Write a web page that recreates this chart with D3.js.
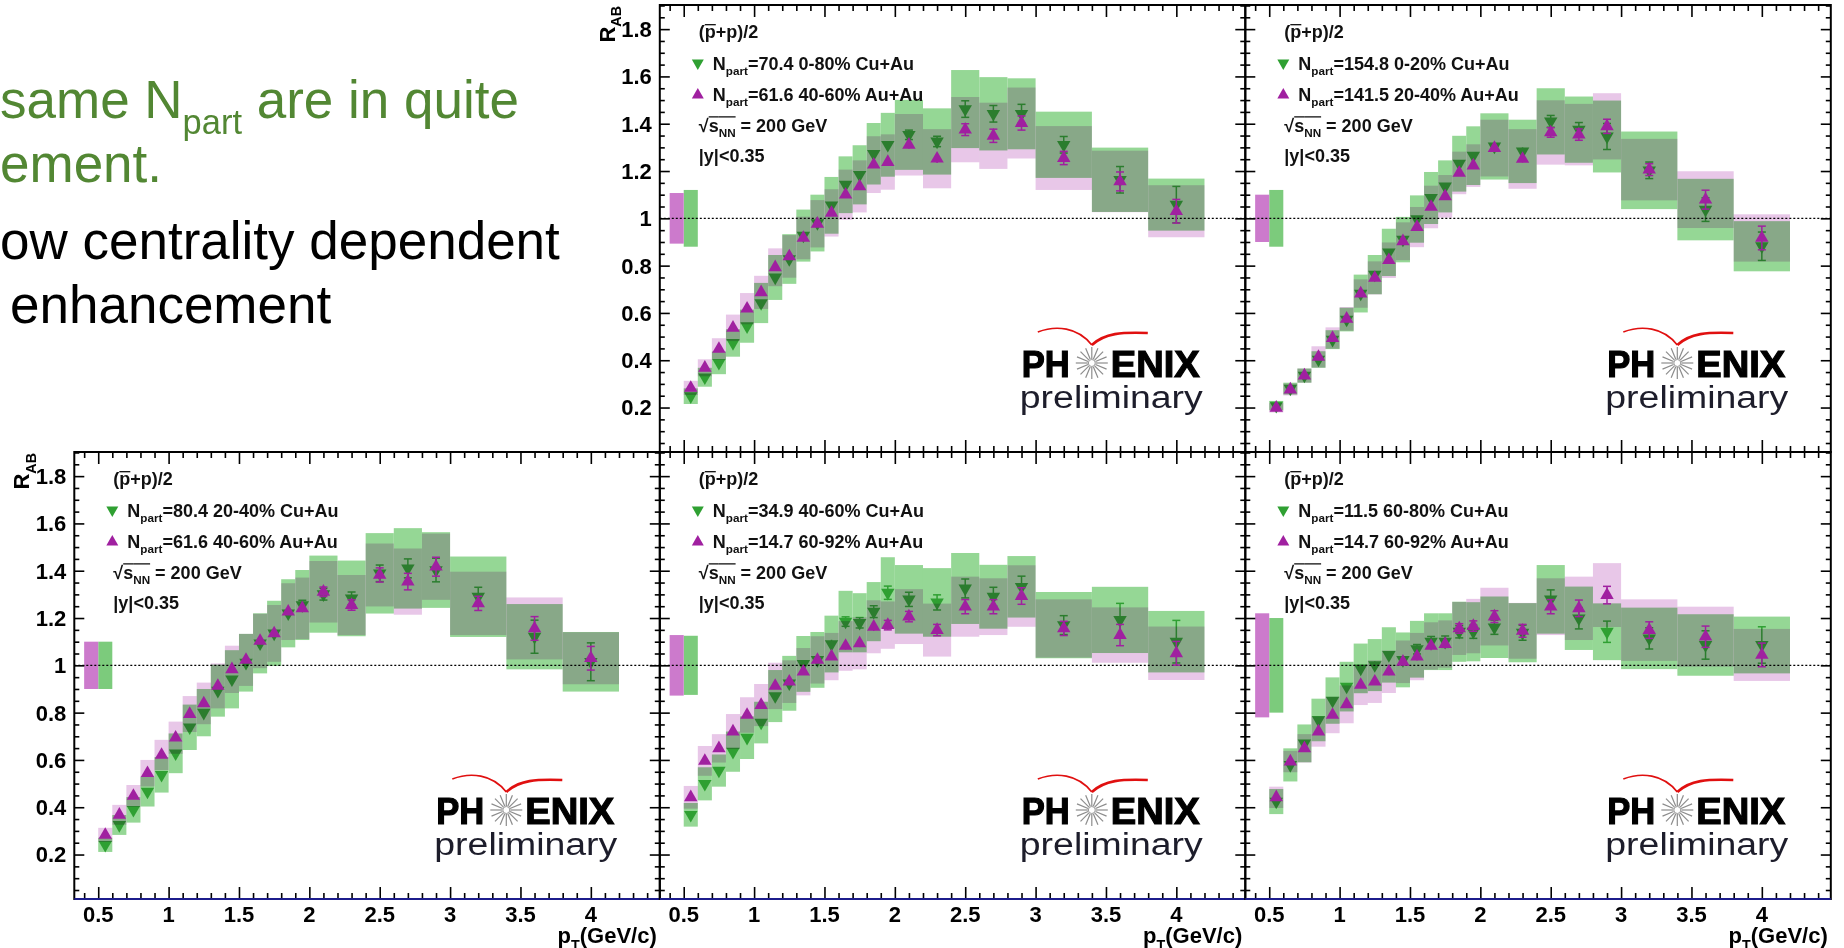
<!DOCTYPE html>
<html lang="en">
<head>
<meta charset="utf-8">
<title>RAB Cu+Au vs Au+Au</title>
<script src="https://cdn.jsdelivr.net/npm/d3@7"></script>
<style>
  body { margin: 0; background: #fff; }
  text { font-family: "Liberation Sans", Arial, Helvetica, sans-serif; }
</style>
</head>
<body>
<script>
// pT bins (GeV/c)
var ptMid = [0.55,0.65,0.75,0.85,0.95,1.05,1.15,1.25,1.35,1.45,1.55,1.65,1.75,1.85,1.95,2.1,2.3,2.5,2.7,2.9,3.2,3.6,4.0];
var ptLo  = [0.5,0.6,0.7,0.8,0.9,1.0,1.1,1.2,1.3,1.4,1.5,1.6,1.7,1.8,1.9,2.0,2.2,2.4,2.6,2.8,3.0,3.4,3.8];
var ptHi  = [0.6,0.7,0.8,0.9,1.0,1.1,1.2,1.3,1.4,1.5,1.6,1.7,1.8,1.9,2.0,2.2,2.4,2.6,2.8,3.0,3.4,3.8,4.2];

// panel A: 70.4 0-80% Cu+Au vs 61.6 40-60% Au+Au
var cuA    = [0.248,0.328,0.389,0.473,0.544,0.642,0.75,0.828,0.927,0.98,1.055,1.142,1.184,1.273,1.311,1.353,1.325,1.462,1.442,1.442,1.311,1.163,1.058];
var cuSysA = [0.033,0.04,0.048,0.058,0.07,0.085,0.095,0.105,0.11,0.12,0.12,0.12,0.125,0.13,0.135,0.148,0.14,0.165,0.155,0.15,0.14,0.136,0.11];
var cuStA  = [0.005,0.005,0.006,0.006,0.007,0.007,0.008,0.008,0.009,0.01,0.01,0.011,0.012,0.013,0.015,0.02,0.022,0.035,0.035,0.04,0.035,0.056,0.077];
var auA    = [0.283,0.368,0.448,0.537,0.618,0.687,0.793,0.839,0.917,0.977,1.023,1.1,1.135,1.227,1.238,1.311,1.252,1.375,1.349,1.403,1.255,1.156,1.03];
var auSysA = [0.03,0.036,0.045,0.056,0.066,0.07,0.08,0.09,0.09,0.1,0.1,0.106,0.11,0.12,0.117,0.13,0.125,0.138,0.14,0.15,0.135,0.13,0.11];
var auStA  = [0.005,0.005,0.005,0.006,0.006,0.007,0.007,0.008,0.008,0.009,0.01,0.01,0.011,0.012,0.013,0.017,0.018,0.025,0.028,0.03,0.028,0.04,0.05];

// panel B: 154.8 0-20% Cu+Au vs 141.5 20-40% Au+Au
var cuB    = [0.208,0.28,0.335,0.403,0.487,0.572,0.682,0.762,0.856,0.91,0.997,1.086,1.135,1.231,1.265,1.304,1.283,1.41,1.375,1.346,1.203,1.037,0.882];
var cuSysB = [0.02,0.025,0.03,0.035,0.04,0.05,0.08,0.083,0.1,0.096,0.1,0.11,0.11,0.118,0.124,0.14,0.134,0.14,0.14,0.152,0.164,0.13,0.106];
var cuStB  = [0.004,0.004,0.005,0.005,0.006,0.006,0.007,0.007,0.008,0.008,0.009,0.01,0.01,0.011,0.012,0.015,0.017,0.025,0.03,0.055,0.035,0.05,0.06];
var auB    = [0.199,0.276,0.335,0.414,0.494,0.575,0.682,0.748,0.823,0.903,0.963,1.048,1.093,1.192,1.223,1.297,1.251,1.363,1.354,1.389,1.206,1.079,0.917];
var auSysB = [0.02,0.025,0.03,0.045,0.045,0.05,0.06,0.07,0.075,0.08,0.085,0.09,0.09,0.09,0.09,0.12,0.126,0.136,0.13,0.14,0.13,0.12,0.1];
var auStB  = [0.004,0.004,0.004,0.005,0.005,0.006,0.006,0.007,0.007,0.008,0.008,0.009,0.009,0.01,0.011,0.013,0.015,0.02,0.024,0.03,0.025,0.04,0.05];

// panel C: 80.4 20-40% Cu+Au vs 61.6 40-60% Au+Au
var cuC    = [0.241,0.325,0.389,0.466,0.537,0.628,0.738,0.8,0.893,0.941,1.011,1.093,1.135,1.22,1.255,1.301,1.283,1.389,1.41,1.403,1.29,1.121,1.015];
var cuSysC = [0.03,0.042,0.054,0.063,0.075,0.084,0.096,0.1,0.11,0.123,0.122,0.127,0.138,0.144,0.148,0.163,0.16,0.17,0.17,0.16,0.17,0.138,0.126];
var cuStC  = [0.005,0.006,0.006,0.007,0.008,0.008,0.009,0.01,0.011,0.012,0.013,0.014,0.015,0.017,0.02,0.025,0.027,0.035,0.04,0.05,0.04,0.07,0.08];
var auC    = [0.283,0.368,0.448,0.544,0.621,0.694,0.794,0.839,0.913,0.983,1.023,1.103,1.135,1.227,1.241,1.311,1.255,1.382,1.354,1.417,1.262,1.156,1.03];
var auSysC = [0.03,0.042,0.046,0.056,0.064,0.068,0.076,0.088,0.095,0.1,0.11,0.115,0.12,0.12,0.13,0.13,0.127,0.133,0.14,0.14,0.134,0.131,0.11];
var auStC  = [0.005,0.005,0.006,0.006,0.007,0.007,0.008,0.009,0.009,0.01,0.011,0.012,0.013,0.014,0.016,0.02,0.022,0.03,0.035,0.04,0.03,0.05,0.05];

// panel D: 34.9 40-60% Cu+Au vs 14.7 60-92% Au+Au
var cuD    = [0.368,0.499,0.555,0.635,0.694,0.758,0.87,0.924,1.006,1.023,1.09,1.185,1.18,1.227,1.307,1.279,1.266,1.325,1.29,1.332,1.17,1.192,1.1];
var cuSysD = [0.05,0.07,0.068,0.085,0.09,0.088,0.11,0.116,0.118,0.118,0.12,0.13,0.125,0.125,0.15,0.145,0.145,0.15,0.135,0.13,0.14,0.14,0.13];
var cuStD  = [0.008,0.008,0.009,0.01,0.011,0.012,0.013,0.014,0.015,0.016,0.018,0.02,0.022,0.025,0.028,0.03,0.032,0.04,0.04,0.045,0.04,0.07,0.09];
var auD    = [0.442,0.596,0.649,0.72,0.79,0.832,0.913,0.931,0.973,1.023,1.037,1.082,1.093,1.163,1.17,1.206,1.149,1.248,1.248,1.293,1.156,1.128,1.051];
var auSysD = [0.048,0.063,0.06,0.074,0.075,0.089,0.098,0.09,0.1,0.1,0.1,0.105,0.11,0.112,0.1,0.116,0.112,0.127,0.12,0.13,0.123,0.117,0.113];
var auStD  = [0.006,0.006,0.007,0.008,0.008,0.009,0.01,0.011,0.012,0.013,0.014,0.015,0.016,0.018,0.02,0.022,0.024,0.03,0.03,0.035,0.03,0.045,0.05];

// panel E: 11.5 60-80% Cu+Au vs 14.7 60-92% Au+Au
var cuE    = [0.424,0.579,0.67,0.769,0.851,0.91,0.987,1.001,1.044,1.023,1.068,1.1,1.1,1.142,1.142,1.161,1.138,1.279,1.199,1.142,1.114,1.086,1.086];
var cuSysE = [0.053,0.07,0.08,0.09,0.098,0.105,0.105,0.11,0.117,0.116,0.12,0.12,0.12,0.127,0.125,0.13,0.125,0.145,0.134,0.12,0.13,0.13,0.12];
var cuStE  = [0.01,0.01,0.011,0.012,0.013,0.014,0.015,0.016,0.017,0.018,0.02,0.022,0.024,0.026,0.028,0.03,0.032,0.04,0.045,0.045,0.045,0.06,0.077];
var auE    = [0.442,0.593,0.649,0.72,0.79,0.835,0.917,0.931,0.973,1.015,1.037,1.082,1.09,1.156,1.166,1.206,1.146,1.248,1.241,1.297,1.149,1.121,1.044];
var auSysE = [0.045,0.045,0.06,0.064,0.077,0.08,0.085,0.09,0.09,0.09,0.1,0.1,0.1,0.112,0.115,0.122,0.118,0.12,0.134,0.135,0.13,0.127,0.11];
var auStE  = [0.008,0.008,0.009,0.01,0.011,0.012,0.013,0.014,0.015,0.016,0.017,0.018,0.019,0.02,0.022,0.025,0.027,0.03,0.035,0.037,0.035,0.045,0.05];

var cuVals = [cuA, cuB, cuC, cuD, cuE], cuSys = [cuSysA, cuSysB, cuSysC, cuSysD, cuSysE], cuStat = [cuStA, cuStB, cuStC, cuStD, cuStE];
var auVals = [auA, auB, auC, auD, auE], auSys = [auSysA, auSysB, auSysC, auSysD, auSysE], auStat = [auStA, auStB, auStC, auStD, auStE];
var cuLabels = ["=70.4 0-80% Cu+Au", "=154.8 0-20% Cu+Au", "=80.4 20-40% Cu+Au", "=34.9 40-60% Cu+Au", "=11.5 60-80% Cu+Au"];
var auLabels = ["=61.6 40-60% Au+Au", "=141.5 20-40% Au+Au", "=61.6 40-60% Au+Au", "=14.7 60-92% Au+Au", "=14.7 60-92% Au+Au"];
// global normalisation uncertainty around 1
var auGlobal = [0.107, 0.1, 0.1, 0.128, 0.22];
var cuGlobal = [0.12, 0.12, 0.1, 0.125, 0.2];
var panelCol = [1, 2, 0, 1, 2];
var panelRow = [0, 0, 1, 1, 1];

var xMajor = [0.5, 1, 1.5, 2, 2.5, 3, 3.5, 4];
var yMajor = [0.2, 0.4, 0.6, 0.8, 1, 1.2, 1.4, 1.6, 1.8];

var W = 1844, H = 948;
var frameX = 74.3, panelW = 585.5, panelH = 447, rowY = [5, 452];
var xDomain = [0.33, 4.49], yDomain = [0.012, 1.902];

var green = "#2fa032", magenta = "#a020a0";
var greenBox = "#95d795", pinkBox = "#e8c7e8";
var greenGlobal = "#7ccb7c", pinkGlobal = "#cc7acc";

var svg = d3.select("body").append("svg").attr("width", W).attr("height", H);
svg.append("rect").attr("width", W).attr("height", H).attr("fill", "#fff");

// text with subscripts / overbars
function rich(sel, x, y, parts, size, weight, color, barLift) {
  var t = sel.append("text").attr("x", x).attr("y", y)
    .attr("font-size", size).attr("font-weight", weight).attr("fill", color);
  var shift = 0, idx = 0, bars = [];
  parts.forEach(function (p) {
    var sub = p[1].indexOf("sub") >= 0;
    var want = sub ? size * 0.3 : 0;
    var ts = t.append("tspan").text(p[0]).attr("dy", want - shift);
    shift = want;
    if (sub) ts.attr("font-size", size * 0.65);
    if (p[1].indexOf("bar") >= 0) bars.push([idx, p[0].length]);
    idx += p[0].length;
  });
  var node = t.node();
  bars.forEach(function (b) {
    var x1 = node.getStartPositionOfChar(b[0]).x;
    var x2 = node.getEndPositionOfChar(b[0] + b[1] - 1).x;
    sel.append("line").attr("x1", x1).attr("x2", x2)
      .attr("y1", y - size * barLift).attr("y2", y - size * barLift)
      .attr("stroke", color).attr("stroke-width", 1.3);
  });
  return t;
}

// slide text (cut off on the left)
var slideGreen = "#528733";
rich(svg, 0, 118, [["same N", "n"], ["part", "sub"], [" are in quite", "n"]], 53, 400, slideGreen, 0);
rich(svg, 0, 182, [["ement.", "n"]], 53, 400, slideGreen, 0);
rich(svg, 0, 259, [["ow centrality dependent", "n"]], 53, 400, "#000", 0);
rich(svg, 10, 323, [["enhancement", "n"]], 53, 400, "#000", 0);

var tri = d3.symbol().type(d3.symbolTriangle).size(78);
var triLeg = d3.symbol().type(d3.symbolTriangle).size(62);
var fmt = function (d) { return String(+d.toFixed(1)); };

function drawPanel(i) {
  var x0 = frameX + panelCol[i] * panelW, y0 = rowY[panelRow[i]];
  var x = d3.scaleLinear().domain(xDomain).range([x0, x0 + panelW]);
  var y = d3.scaleLinear().domain(yDomain).range([y0 + panelH, y0]);
  var g = svg.append("g");
  var idx = d3.range(ptMid.length);
  var cu = cuVals[i], au = auVals[i];

  // Cu+Au systematic boxes and global box
  g.selectAll(null).data(idx).enter().append("rect")
    .attr("x", function (k) { return x(ptLo[k]); })
    .attr("width", function (k) { return x(ptHi[k]) - x(ptLo[k]); })
    .attr("y", function (k) { return y(cu[k] + cuSys[i][k]); })
    .attr("height", function (k) { return y(cu[k] - cuSys[i][k]) - y(cu[k] + cuSys[i][k]); })
    .attr("fill", greenBox);
  g.append("rect").attr("x", x(0.5)).attr("width", x(0.6) - x(0.5))
    .attr("y", y(1 + cuGlobal[i])).attr("height", y(1 - cuGlobal[i]) - y(1 + cuGlobal[i]))
    .attr("fill", greenGlobal);

  // Cu+Au points
  drawPoints(g, x, y, cu, cuStat[i], green, 180);

  // Au+Au systematic boxes (multiplied over the green)
  g.selectAll(null).data(idx).enter().append("rect")
    .attr("x", function (k) { return x(ptLo[k]); })
    .attr("width", function (k) { return x(ptHi[k]) - x(ptLo[k]); })
    .attr("y", function (k) { return y(au[k] + auSys[i][k]); })
    .attr("height", function (k) { return y(au[k] - auSys[i][k]) - y(au[k] + auSys[i][k]); })
    .attr("fill", pinkBox).style("mix-blend-mode", "multiply");
  g.append("rect").attr("x", x(0.4)).attr("width", x(0.5) - x(0.4))
    .attr("y", y(1 + auGlobal[i])).attr("height", y(1 - auGlobal[i]) - y(1 + auGlobal[i]))
    .attr("fill", pinkGlobal);

  // unity line
  g.append("line").attr("x1", x0).attr("x2", x0 + panelW).attr("y1", y(1)).attr("y2", y(1))
    .attr("stroke", "#000").attr("stroke-width", 1.2).attr("stroke-dasharray", "2,2");

  drawPoints(g, x, y, au, auStat[i], magenta, 0);

  // frame + inward ticks
  var xMinor = d3.range(4, 45).map(function (d) { return d / 10; }).filter(function (d) { return d % 0.5 !== 0; });
  var yMinor = d3.range(1, 39).filter(function (d) { return d % 4 !== 0; }).map(function (d) { return d / 20; });
  function tickSet(gen, tr, vals, len) {
    g.append("g").attr("transform", tr)
      .call(gen.tickValues(vals).tickSize(-len).tickFormat(""))
      .call(function (s) { s.select(".domain").remove(); })
      .selectAll("line").attr("stroke", "#000").attr("stroke-width", 1.6);
  }
  tickSet(d3.axisBottom(x), "translate(0," + (y0 + panelH) + ")", xMajor, 12);
  tickSet(d3.axisBottom(x), "translate(0," + (y0 + panelH) + ")", xMinor, 6);
  tickSet(d3.axisTop(x), "translate(0," + y0 + ")", xMajor, 12);
  tickSet(d3.axisTop(x), "translate(0," + y0 + ")", xMinor, 6);
  tickSet(d3.axisLeft(y), "translate(" + x0 + ",0)", yMajor, 10);
  tickSet(d3.axisLeft(y), "translate(" + x0 + ",0)", yMinor, 5);
  tickSet(d3.axisRight(y), "translate(" + (x0 + panelW) + ",0)", yMajor, 10);
  tickSet(d3.axisRight(y), "translate(" + (x0 + panelW) + ",0)", yMinor, 5);
  g.append("rect").attr("x", x0).attr("y", y0).attr("width", panelW).attr("height", panelH)
    .attr("fill", "none").attr("stroke", "#000").attr("stroke-width", 2);
  if (panelRow[i] === 1) {
    g.append("line").attr("x1", x0).attr("x2", x0 + panelW)
      .attr("y1", y0 + panelH).attr("y2", y0 + panelH)
      .attr("stroke", "#1c1c8c").attr("stroke-width", 2);
  }

  // y labels on the first panel of each row
  if (i === 0 || i === 2) {
    g.selectAll(null).data(yMajor).enter().append("text")
      .attr("x", x0 - 8).attr("y", function (d) { return y(d); }).attr("dy", "0.36em")
      .attr("text-anchor", "end").attr("font-size", 22).attr("font-weight", 700)
      .text(fmt);
    var rt = g.append("g").attr("transform", "translate(" + (x0 - 45) + "," + (y0 + 1) + ") rotate(-90)");
    rich(rt, 0, 0, [["R", "n"], ["AB", "sub"]], 22, 700, "#000", 0).attr("text-anchor", "end");
  }
  // x labels on bottom row
  if (panelRow[i] === 1) {
    g.selectAll(null).data(xMajor).enter().append("text")
      .attr("x", function (d) { return x(d); }).attr("y", y0 + panelH + 23)
      .attr("text-anchor", "middle").attr("font-size", 22).attr("font-weight", 700)
      .text(fmt);
    rich(g, x0 + panelW - 3, y0 + panelH + 44, [["p", "n"], ["T", "sub"], ["(GeV/c)", "n"]], 22, 700, "#000", 0)
      .attr("text-anchor", "end");
  }

  // legend
  rich(g, x0 + 39, y0 + 33, [["(", "n"], ["p", "bar"], ["+p)/2", "n"]], 18, 700, "#111", 0.74);
  g.append("path").attr("d", triLeg).attr("fill", green)
    .attr("transform", "translate(" + (x0 + 38) + "," + (y0 + 58) + ") rotate(180)");
  rich(g, x0 + 53, y0 + 65, [["N", "n"], ["part", "sub"], [cuLabels[i], "n"]], 18, 700, "#111", 0);
  g.append("path").attr("d", triLeg).attr("fill", magenta)
    .attr("transform", "translate(" + (x0 + 38) + "," + (y0 + 90) + ")");
  rich(g, x0 + 53, y0 + 96, [["N", "n"], ["part", "sub"], [auLabels[i], "n"]], 18, 700, "#111", 0);
  rich(g, x0 + 39, y0 + 127, [["\u221A", "n"], ["s", "bar"], ["NN", "barsub"], [" = 200 GeV", "n"]], 18, 700, "#111", 0.84);
  rich(g, x0 + 39, y0 + 157, [["|y|<0.35", "n"]], 18, 700, "#111", 0);

  drawLogo(g, x0, y0);
}

function drawPoints(g, x, y, vals, stat, color, rot) {
  var idx = d3.range(ptMid.length);
  var eb = g.append("g").attr("stroke", color).attr("stroke-width", 1.5);
  idx.forEach(function (k) {
    var cx = x(ptMid[k]), yt = y(vals[k] + stat[k]), yb = y(vals[k] - stat[k]);
    eb.append("line").attr("x1", cx).attr("x2", cx).attr("y1", yt).attr("y2", yb);
    if (yb - yt > 9) {
      eb.append("line").attr("x1", cx - 4).attr("x2", cx + 4).attr("y1", yt).attr("y2", yt);
      eb.append("line").attr("x1", cx - 4).attr("x2", cx + 4).attr("y1", yb).attr("y2", yb);
    }
  });
  g.selectAll(null).data(idx).enter().append("path")
    .attr("d", tri).attr("fill", color)
    .attr("transform", function (k) { return "translate(" + x(ptMid[k]) + "," + y(vals[k]) + ") rotate(" + rot + ")"; });
}

function drawLogo(g, x0, y0) {
  var lg = g.append("g").attr("transform", "translate(" + x0 + "," + y0 + ")");
  lg.append("path").attr("d", "M378,327 C396,320 418,322 432,340")
    .attr("fill", "none").attr("stroke", "#e01010").attr("stroke-width", 1.6);
  lg.append("path").attr("d", "M432,340 C445,328 462,327 488,328")
    .attr("fill", "none").attr("stroke", "#e01010").attr("stroke-width", 2.6);
  lg.append("text").attr("x", 362).attr("y", 372).attr("font-size", 37).attr("font-weight", 700)
    .attr("stroke", "#000").attr("stroke-width", 1.2)
    .attr("textLength", 48).attr("lengthAdjust", "spacingAndGlyphs").text("PH");
  lg.append("text").attr("x", 451).attr("y", 372).attr("font-size", 37).attr("font-weight", 700)
    .attr("stroke", "#000").attr("stroke-width", 1.2)
    .attr("textLength", 89).attr("lengthAdjust", "spacingAndGlyphs").text("ENIX");
  var star = lg.append("g").attr("transform", "translate(432,358)");
  d3.range(16).forEach(function (k) {
    var a = k * Math.PI / 8;
    star.append("line").attr("x1", 4 * Math.cos(a)).attr("y1", 4 * Math.sin(a))
      .attr("x2", 16 * Math.cos(a)).attr("y2", 16 * Math.sin(a))
      .attr("stroke", "#8c8c8c").attr("stroke-width", 1.2);
  });
  star.append("circle").attr("r", 3.5).attr("fill", "#fff").attr("stroke", "#999").attr("stroke-width", 1);
  lg.append("text").attr("x", 360).attr("y", 403).attr("font-size", 31)
    .attr("font-family", "'Open Sans', 'Noto Sans', sans-serif").attr("fill", "#1d1d2b")
    .attr("textLength", 183).attr("lengthAdjust", "spacingAndGlyphs").text("preliminary");
}

d3.range(5).forEach(drawPanel);
</script>
</body>
</html>
